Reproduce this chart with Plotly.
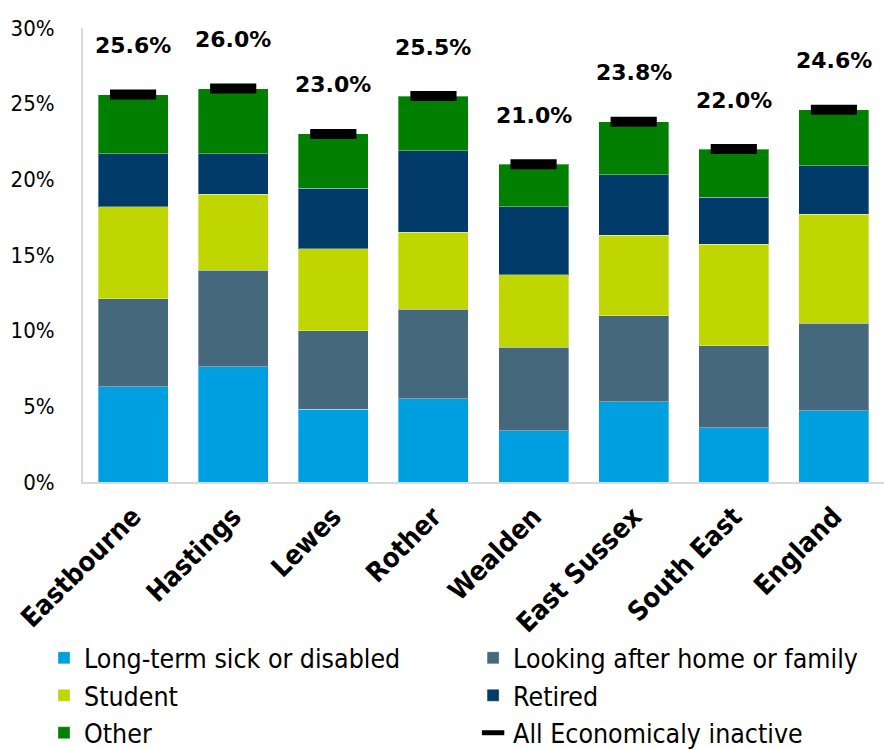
import plotly.graph_objects as go

categories = ["Eastbourne", "Hastings", "Lewes", "Rother", "Wealden", "East Sussex", "South East", "England"]
long_term_sick = [6.3, 7.6, 4.8, 5.5, 3.4, 5.3, 3.6, 4.7]
looking_after = [5.8, 6.4, 5.2, 5.9, 5.5, 5.7, 5.4, 5.8]
student = [6.1, 5.0, 5.4, 5.1, 4.8, 5.3, 6.7, 7.2]
retired = [3.5, 2.7, 4.0, 5.4, 4.5, 4.0, 3.1, 3.2]
other = [3.9, 4.3, 3.6, 3.6, 2.8, 3.5, 3.2, 3.7]
all_inactive = [25.6, 26.0, 23.0, 25.5, 21.0, 23.8, 22.0, 24.6]
y_ticks = [0, 5, 10, 15, 20, 25, 30]
y_tick_labels = ["0%", "5%", "10%", "15%", "20%", "25%", "30%"]

series = [
    ("Long-term sick or disabled", long_term_sick, "#009FDF", "legend"),
    ("Looking after home or family", looking_after, "#45687C", "legend2"),
    ("Student", student, "#C0D600", "legend"),
    ("Retired", retired, "#003B6A", "legend2"),
    ("Other", other, "#007F00", "legend"),
]

font_main = "DejaVu Sans Condensed, DejaVu Sans, sans-serif"

fig = go.Figure()
for name, vals, color, lg in series:
    fig.add_trace(go.Bar(
        x=categories, y=vals, name=name, legend=lg,
        marker=dict(color=color, line=dict(color="rgba(255,255,255,0.35)", width=1)),
    ))

fig.add_trace(go.Scatter(
    x=categories, y=all_inactive, name="All Economicaly inactive", legend="legend2",
    mode="markers",
    marker=dict(symbol="line-ew", size=33, color="black", line=dict(color="black", width=10)),
))

for c, v in zip(categories, all_inactive):
    fig.add_annotation(x=c, y=v, text=f"{v:.1f}%", showarrow=False, yshift=49,
                       font=dict(family="DejaVu Sans, sans-serif", size=22, color="black", weight="bold"))

legend_common = dict(
    orientation="v", yanchor="top", xanchor="left", y=-0.335,
    font=dict(family=font_main, size=26.5, color="black"),
    itemwidth=30, traceorder="normal", bgcolor="rgba(0,0,0,0)",
)

fig.update_layout(
    barmode="stack", bargap=0.3,
    width=884, height=749,
    margin=dict(l=83, r=0, t=28, b=267, autoexpand=False),
    plot_bgcolor="white", paper_bgcolor="white",
    font=dict(family=font_main, size=22, color="black"),
    showlegend=True,
    legend=dict(x=-0.0487, **legend_common),
    legend2=dict(x=0.487, **legend_common),
)
fig.update_yaxes(range=[0, 30], tickvals=y_ticks, ticktext=y_tick_labels, showgrid=False,
                 showline=True, linecolor="#D9D9D9", linewidth=2,
                 ticks="outside", ticklen=22, tickcolor="rgba(0,0,0,0)",
                 tickfont=dict(family=font_main, size=22), zeroline=False, automargin=False)
fig.update_xaxes(range=[-0.5, len(categories) - 0.5],
                 showline=True, linecolor="#D9D9D9", linewidth=2, tickangle=-45, automargin=False,
                 ticks="outside", ticklen=6, tickcolor="rgba(0,0,0,0)",
                 tickfont=dict(family=font_main, size=27, weight="bold"))

fig.write_html(
    "out.html",
    config={"displayModeBar": False},
    post_script="document.body.style.margin='0';document.body.style.overflow='hidden';",
)
